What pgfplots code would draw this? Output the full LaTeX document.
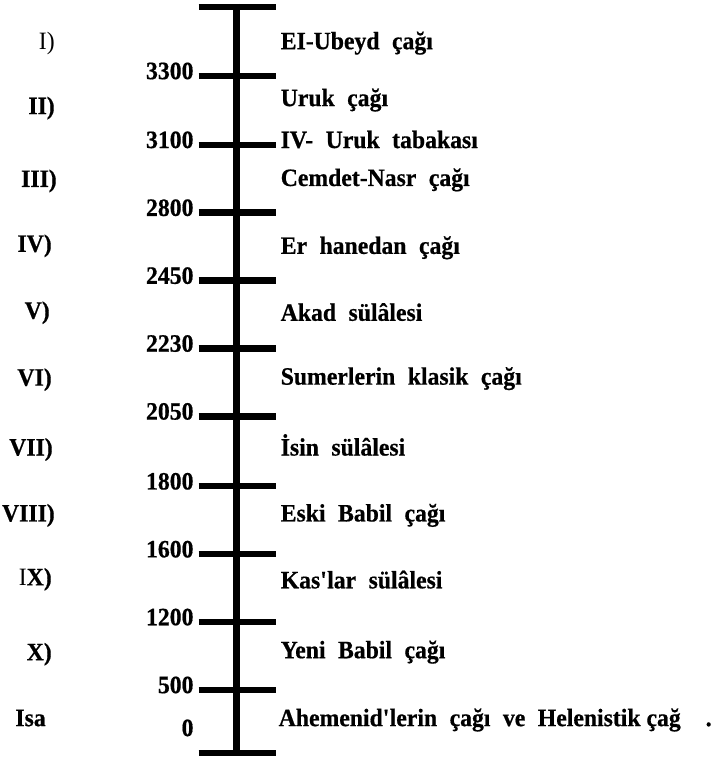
\documentclass[border=0pt]{standalone}
\usepackage{fontspec}
\setmainfont{Liberation Serif}[FakeStretch=0.95, BoldFeatures={FakeBold=0.6}]
\usepackage{pgfplots}
\usepackage{pgfplotstable}
\pgfplotsset{compat=1.18}
\newcommand\w{\hspace{0.5em}}
\newcommand\q{\textquotesingle}

% tick bars: vertical pixel positions (top = 0)
\pgfplotstableread[col sep=comma,row sep=\\]{
x,y,lbl\\
194,77,3300\\
194,146,3100\\
194,214,2800\\
194,282,2450\\
194,350,2230\\
194,418,2050\\
194,488,1800\\
194,556,1600\\
194,624,1200\\
194,692,500\\
194,735,0\\
}\years

\pgfplotstableread[col sep=comma,row sep=\\]{
x,y,lbl\\
55,47,{\mdseries I)}\\
55,112,II)\\
57,185,III)\\
52,250,IV)\\
50,317,V)\\
52,384,VI)\\
53,454,VII)\\
55,520,VIII)\\
52,584,{{\mdseries I}X)}\\
52,659,X)\\
46,725,Isa\\
}\romans

\pgfplotstableread[col sep=comma,row sep=\\]{
x,y,lbl\\
281,47,{EI-Ubeyd\w çağı}\\
281,104,{Uruk\w çağı}\\
281,146,{IV-\w Uruk\w tabakası}\\
281,184,{Cemdet-Nasr\w çağı}\\
281,252,{Er\w hanedan\w çağı}\\
281,319,{Akad\w sülâlesi}\\
281,383,{Sumerlerin\w klasik\w çağı}\\
281,454,{İsin\w sülâlesi}\\
281,520,{Eski\w Babil\w çağı}\\
281,587,{Kas\q lar\w sülâlesi}\\
281,657,{Yeni\w Babil\w çağı}\\
279,725,{Ahemenid\q lerin\w çağı\w ve\w Helenistik çağ\w\w .}\\
}\periods

\begin{document}
\begin{tikzpicture}
\begin{axis}[
  scale only axis, width=709bp, height=759bp,
  xmin=0, xmax=709, ymin=0, ymax=759, y dir=reverse,
  hide axis, clip=false,
  lbl/.style={draw=none, nodes near coords, point meta=explicit symbolic,
    nodes near coords style={font=\fontsize{25bp}{30bp}\selectfont\bfseries, inner sep=0pt, text=black}},
]
\addplot[draw=none] coordinates {(0,0) (709,759)};
% main vertical line
\addplot[black, line width=6.5bp] coordinates {(237,4) (237,757)};
% horizontal tick bars
\addplot[black, line width=6.5bp, unbounded coords=jump] coordinates {
(199,7) (276,7) (nan,nan)
(199,76) (276,76) (nan,nan)
(199,145) (276,145) (nan,nan)
(199,213) (276,213) (nan,nan)
(199,281) (276,281) (nan,nan)
(199,349) (276,349) (nan,nan)
(199,417) (276,417) (nan,nan)
(199,487) (276,487) (nan,nan)
(199,555) (276,555) (nan,nan)
(199,623) (276,623) (nan,nan)
(199,691) (276,691) (nan,nan)
(199,754) (276,754)
};
\addplot[lbl, nodes near coords style={anchor=mid east}] table[x=x,y=y,meta=lbl] {\years};
\addplot[lbl, nodes near coords style={anchor=mid east}] table[x=x,y=y,meta=lbl] {\romans};
\addplot[lbl, nodes near coords style={anchor=mid west}] table[x=x,y=y,meta=lbl] {\periods};
\end{axis}
\end{tikzpicture}
\end{document}
